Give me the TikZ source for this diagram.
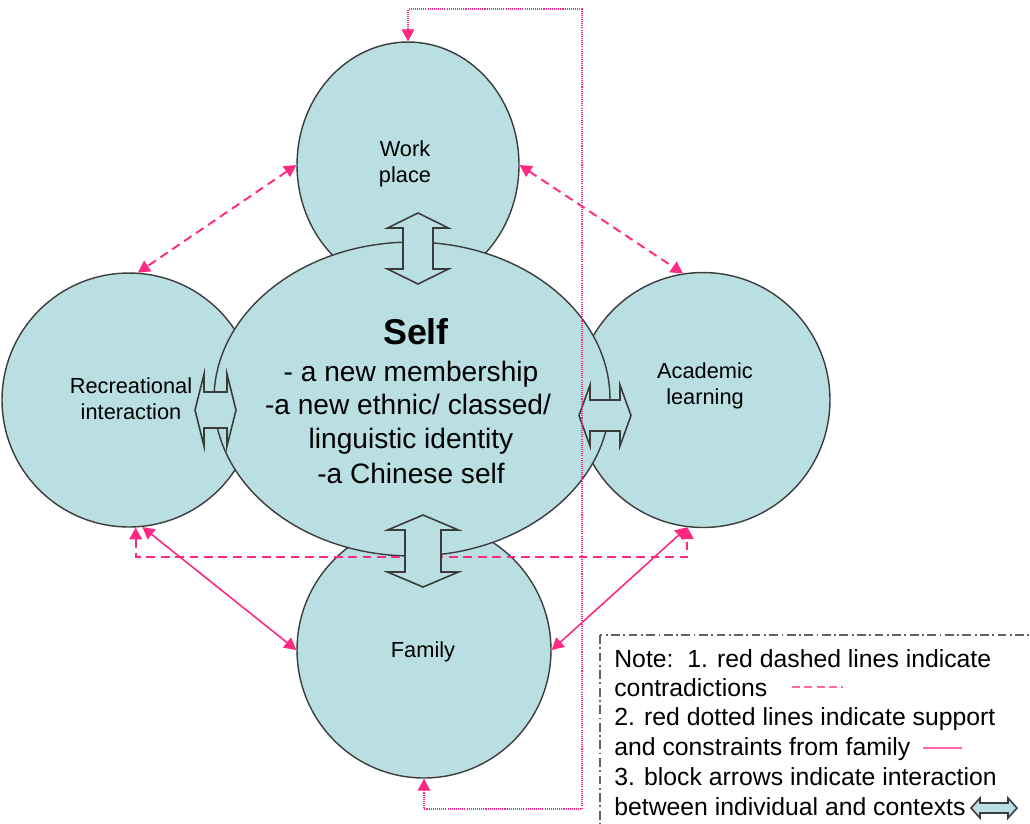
\documentclass[tikz,border=0pt]{standalone}
\usepackage{fontspec}
\setmainfont{Liberation Sans}
\usetikzlibrary{shapes.geometric,arrows.meta}

\definecolor{ctxfill}{RGB}{185,223,226}
\definecolor{ctxline}{RGB}{60,60,60}
\definecolor{linkred}{RGB}{255,40,130}

% vertical double block arrow: cx, ytop, ybottom, shaft half-width, head half-width, head length
\newcommand\vblockarrow[6]{%
  \draw[blockarr] (#1,#2) -- (#1+#5,#2+#6) -- (#1+#4,#2+#6) -- (#1+#4,#3-#6)
    -- (#1+#5,#3-#6) -- (#1,#3) -- (#1-#5,#3-#6) -- (#1-#4,#3-#6)
    -- (#1-#4,#2+#6) -- (#1-#5,#2+#6) -- cycle;}
% horizontal double block arrow: cy, xleft, xright, shaft half-width, head half-width, head length
\newcommand\hblockarrow[6]{%
  \draw[blockarr] (#2,#1) -- (#2+#6,#1-#5) -- (#2+#6,#1-#4) -- (#3-#6,#1-#4)
    -- (#3-#6,#1-#5) -- (#3,#1) -- (#3-#6,#1+#5) -- (#3-#6,#1+#4)
    -- (#2+#6,#1+#4) -- (#2+#6,#1+#5) -- cycle;}

\tikzset{
  ctx/.style={ellipse, draw=ctxline, line width=0.8pt, fill=ctxfill, inner sep=0pt},
  ctxlabel/.style={align=center, font=\fontsize{12.4}{14.7}\selectfont, inner sep=0pt},
  selfline/.style={anchor=base, inner sep=0pt, font=\fontsize{16}{19}\selectfont},
  noteline/.style={anchor=base west, inner sep=0pt, font=\fontsize{14.1}{16.7}\selectfont},
  blockarr/.style={draw=ctxline, line width=0.9pt, fill=ctxfill, line join=miter},
  tipred/.style={{Triangle[length=6.8pt,width=7.2pt]}-{Triangle[length=6.8pt,width=7.2pt]}},
  conflict/.style={draw=linkred, line width=1.1pt, dash pattern=on 5pt off 3.2pt, tipred},
  support/.style={draw=linkred, line width=0.9pt, tipred},
  familyloop/.style={draw=linkred, line width=0.6pt, dash pattern=on 0.6pt off 0.6pt, tipred},
}

\begin{document}
\begin{tikzpicture}[x=0.02cm, y=-0.02cm]
\useasboundingbox (0,0) rectangle (1030,823);
\clip (0,0) rectangle (1030,823);

% context circles
\node[ctx, minimum width=4.44cm, minimum height=4.92cm] (work) at (408,165) {};
\node[ctx, minimum width=5.08cm, minimum height=5.08cm] (rec)  at (129,400) {};
\node[ctx, minimum width=5.08cm, minimum height=5.10cm] (acad) at (703,400) {};
\node[ctx, minimum width=5.08cm, minimum height=5.12cm] (fam)  at (424,650) {};
% the self in the middle
\node[ctx, minimum width=7.92cm, minimum height=6.28cm] (self) at (412,399) {};

% context labels
\node[ctxlabel] (worklbl) at (405,164) {Work\\place};
\node[ctxlabel] (reclbl)  at (131,399) {Recreational\\interaction};
\node[ctxlabel] (acadlbl) at (705,386) {Academic\\learning};
\node[ctxlabel] (famlbl)  at (423,652) {Family};

% self labels
\node[anchor=base, inner sep=0pt, font=\fontsize{20.4}{24}\selectfont\bfseries] (selftitle) at (416,344) {Self};
\node[selfline] (self1) at (411,381) {- a new membership};
\node[selfline] (self2) at (408,414) {-a new ethnic/ classed/};
\node[selfline] (self3) at (411,448) {linguistic identity};
\node[selfline] (self4) at (411,483) {-a Chinese self};

% contradictions between contexts
\draw[conflict] (work.180) -- (rec.86);
\draw[conflict] (work.0) -- (acad.99);
\coordinate (dashlow) at (0,557);
\draw[conflict] (rec.273) -- (rec.273 |- dashlow) -- (acad.263 |- dashlow) -- (acad.263);

% support and constraints from family
\draw[support] (rec.276) -- (fam.180);
\draw[support] (acad.263) -- (fam.0);

% interaction between individual and contexts
\vblockarrow{418}{213}{284}{15}{30.5}{15}
\vblockarrow{423}{515}{587}{18}{35.5}{15}
\hblockarrow{410}{195}{236}{18}{36}{9}
\hblockarrow{415.5}{579}{631}{15.5}{30.5}{11}

% family loop around the picture
\coordinate (loopbr) at (582,809);
\coordinate (looptr) at (582,9);
\draw[familyloop] (fam.270) |- (loopbr) -- (looptr) -| (work.90);

% note box
\draw[draw=ctxline!80, line width=0.8pt, dash pattern=on 5pt off 2pt on 1pt off 2pt]
  (600,635) rectangle (1045,850);
\node[noteline] (n1) at (614,667) {Note:\ \ 1. red dashed lines indicate};
\node[noteline] (n2) at (614,696) {contradictions};
\node[noteline] (n3) at (614,725) {2. red dotted lines indicate support};
\node[noteline] (n4) at (614,755) {and constraints from family};
\node[noteline] (n5) at (614,785) {3. block arrows indicate interaction};
\node[noteline] (n6) at (614,815) {between individual and contexts};
\coordinate (legdashA) at (792,687);
\coordinate (legdashB) at (843,687);
\draw[draw=linkred!70, line width=0.8pt, dash pattern=on 4.5pt off 2.5pt] (legdashA) -- (legdashB);
\coordinate (legsolA) at (923,748);
\coordinate (legsolB) at (962,748);
\draw[draw=linkred!70, line width=0.6pt] (legsolA) -- (legsolB);
\hblockarrow{808}{971}{1017}{5}{10}{9}
\end{tikzpicture}
\end{document}
